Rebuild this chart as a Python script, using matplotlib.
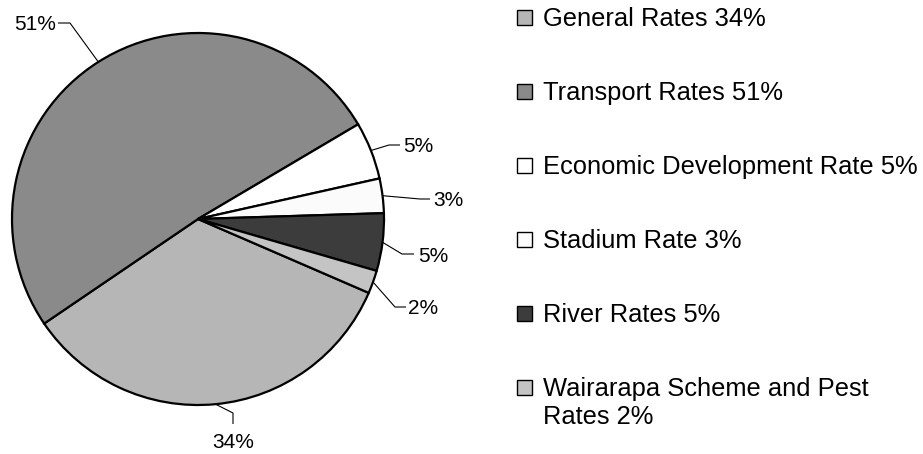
import textwrap
import numpy as np
import matplotlib
matplotlib.use("Agg")
import matplotlib.pyplot as plt
from matplotlib.patches import Rectangle

# ---- data ----
categories = ["General Rates", "Transport Rates", "Economic Development Rate",
              "Stadium Rate", "River Rates", "Wairarapa Scheme and Pest Rates"]
values = [34, 51, 5, 3, 5, 2]
colors = ["#b6b6b6", "#8a8a8a", "#ffffff", "#fbfbfb", "#3c3c3c", "#c4c4c4"]

# ---- layout (pixel coordinates, y measured from top) ----
W, H = 923, 454
pie_cx, pie_cy, pie_r = 198, 219, 186
start_angle = -23.4
label_fs_pt = 15
legend_fs_pt = 18.4
# data label anchor (x, y-center, ha) and leader elbow points
label_pos = [(233.5, 440, "center"), (56, 23, "right"), (403, 145, "left"),
             (433, 199, "left"), (418, 254, "left"), (408, 307, "left")]
leader_pts = [[(233, 413), (233, 424)],
              [(70, 23), (58, 23)],
              [(389, 145), (400, 145)],
              [(420, 199), (430, 199)],
              [(402, 254), (414, 254)],
              [(395, 307), (406, 307)]]
leg_marker_x, leg_text_x = 517, 543
leg_y0, leg_dy = 17, 74
leg_line_gap = 28
leg_marker_size = 15

plt.rcParams["font.family"] = ["Liberation Sans", "DejaVu Sans"]

fig = plt.figure(figsize=(W / 100, H / 100), dpi=100)
ax = fig.add_axes([0, 0, 1, 1])

def Y(y):
    return H - y

wedges, _ = ax.pie(values, colors=colors, startangle=start_angle, counterclock=False,
                   center=(pie_cx, Y(pie_cy)), radius=pie_r,
                   wedgeprops=dict(edgecolor="black", linewidth=1.6))
ax.set_xlim(0, W)
ax.set_ylim(0, H)
ax.set_aspect("equal")
ax.axis("off")

fs_px = label_fs_pt * 100 / 72
for w, v, (lx, ly, ha), pts in zip(wedges, values, label_pos, leader_pts):
    mid = np.deg2rad((w.theta1 + w.theta2) / 2)
    ex = pie_cx + pie_r * np.cos(mid)
    ey = Y(pie_cy) + pie_r * np.sin(mid)
    xs = [ex] + [p[0] for p in pts]
    ys = [ey] + [Y(p[1]) for p in pts]
    ax.plot(xs, ys, color="black", linewidth=0.8, solid_capstyle="butt")
    ax.text(lx, Y(ly + 0.36 * fs_px), f"{v}%", fontsize=label_fs_pt, ha=ha,
            va="baseline", color="black")

lfs_px = legend_fs_pt * 100 / 72
for i, (c, v, col) in enumerate(zip(categories, values, colors)):
    yc = leg_y0 + i * leg_dy
    ax.add_patch(Rectangle((leg_marker_x, Y(yc + leg_marker_size / 2)),
                           leg_marker_size, leg_marker_size,
                           facecolor=col, edgecolor="black", linewidth=1.0))
    lines = textwrap.wrap(f"{c} {v}%", width=28)
    for k, line in enumerate(lines):
        ax.text(leg_text_x, Y(yc + 0.36 * lfs_px + k * leg_line_gap), line,
                fontsize=legend_fs_pt, ha="left", va="baseline", color="black")

fig.savefig("out.png", dpi=100, facecolor="white")
